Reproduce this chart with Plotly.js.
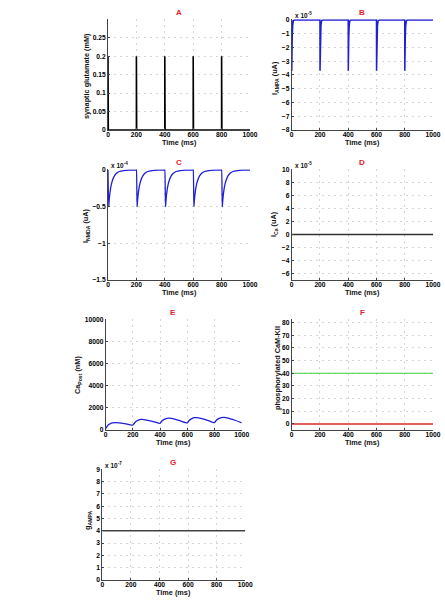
<!DOCTYPE html>
<html><head><meta charset="utf-8">
<script src="https://cdn.plot.ly/plotly-3.0.1.min.js"></script>
<style>html,body{margin:0;padding:0;background:#fff}#c{width:445px;height:603px}</style>
</head><body><div id="c"></div>
<script>
// Panel A: synaptic glutamate (mM)
const tA = [0,0,2,2,200,200,202,202,400,400,402,402,600,600,602,602,800,800,802,802,1000];
const yA = [0,0.2,0.2,0,0,0.2,0.2,0,0,0.2,0.2,0,0,0.2,0.2,0,0,0.2,0.2,0,0];
// Panel B: I_AMPA (x10^-5 uA)
const tB = [0,0.5,2,4,7,12,20,200,200.5,202,204,207,212,220,400,400.5,402,404,407,412,420,600,600.5,602,604,607,612,620,800,800.5,802,804,807,812,820,1000];
const yB = [0,-3.7,-2.5,-1.2,-0.4,-0.05,0,0,-3.7,-2.5,-1.2,-0.4,-0.05,0,0,-3.7,-2.5,-1.2,-0.4,-0.05,0,0,-3.7,-2.5,-1.2,-0.4,-0.05,0,0,-3.7,-2.5,-1.2,-0.4,-0.05,0,0];
// Panel C: I_NMDA (x10^-4 uA)
const tC = [0,5,8,12,20,30,45,60,80,110,150,199,
            200,205,208,212,220,230,245,260,280,310,350,399,
            400,405,408,412,420,430,445,460,480,510,550,599,
            600,605,608,612,620,630,645,660,680,710,750,799,
            800,805,808,812,820,830,845,860,880,910,950,1000];
const yC = [0,-0.5,-0.42,-0.34,-0.23,-0.15,-0.08,-0.045,-0.02,-0.007,-0.002,0,
            0,-0.5,-0.42,-0.34,-0.23,-0.15,-0.08,-0.045,-0.02,-0.007,-0.002,0,
            0,-0.5,-0.42,-0.34,-0.23,-0.15,-0.08,-0.045,-0.02,-0.007,-0.002,0,
            0,-0.5,-0.42,-0.34,-0.23,-0.15,-0.08,-0.045,-0.02,-0.007,-0.002,0,
            0,-0.5,-0.42,-0.34,-0.23,-0.15,-0.08,-0.045,-0.02,-0.007,-0.002,0];
// Panel D: I_Ca (x10^-5 uA)
const tD = [0,1000];
const yD = [0,0];
// Panel E: Ca_Post (nM)
const tE = [0,10,20,35,50,70,100,150,200,205,215,230,250,270,300,350,400,405,415,430,450,470,500,550,600,605,615,630,650,670,700,750,800,805,815,830,850,870,900,950,1000];
const yE = [120,330,470,580,640,665,640,560,440,520,680,830,940,960,900,760,600,680,830,960,1060,1070,1000,820,640,720,880,1010,1110,1120,1050,860,660,740,900,1030,1120,1140,1080,880,650];
// Panel F: phosphorylated CaM-KII
const tF = [0,1000];
const yFgreen = [40,40];
const yFred = [0,0];
// Panel G: g_AMPA (x10^-7)
const tG = [0,1000];
const yG = [4,4];

const xTicks = [0,200,400,600,800,1000];
const yTicksA = [0,0.05,0.1,0.15,0.2,0.25];
const yTicksB = [0,-1,-2,-3,-4,-5,-6,-7,-8];
const yTicksC = [0,-0.5,-1,-1.5];
const yTicksD = [-6,-4,-2,0,2,4,6,8,10];
const yTicksE = [0,2000,4000,6000,8000,10000];
const yTicksF = [0,10,20,30,40,50,60,70,80];
const yTicksG = [0,1,2,3,4,5,6,7,8,9];

const W = 445, H = 603;
const FONT = 'Liberation Sans, Arial, sans-serif';
const dx = (a,b)=>[a/W,b/W];
const dy = (top,bot)=>[1-bot/H,1-top/H];

function ax(domain, extra, isX){
  return Object.assign({
    domain: domain, showline:true, linecolor:'#444', linewidth:1, mirror:false,
    ticks:'inside', ticklen:2, tickcolor:'#444', zeroline:false,
    showgrid:true, gridcolor:'#d4d4d4', griddash:'2px,4px', gridwidth:1,
    tickfont:{family:FONT,size:6.7,color:'#000',weight:'bold'},
    fixedrange:true, ticklabelstandoff: isX ? -2 : 0, tickformat:'d'
  }, extra);
}

const data = [
  {x:tA,y:yA,xaxis:'x',yaxis:'y',mode:'lines',line:{color:'#000',width:1.6}},
  {x:tB,y:yB,xaxis:'x2',yaxis:'y2',mode:'lines',line:{color:'#1f1fd6',width:1.5}},
  {x:tC,y:yC,xaxis:'x3',yaxis:'y3',mode:'lines',line:{color:'#1f1fd6',width:1.3,shape:'spline',smoothing:0.6}},
  {x:tD,y:yD,xaxis:'x4',yaxis:'y4',mode:'lines',line:{color:'#333',width:1.5}},
  {x:tE,y:yE,xaxis:'x5',yaxis:'y5',mode:'lines',line:{color:'#1f1fd6',width:1.3,shape:'spline',smoothing:0.6}},
  {x:tF,y:yFgreen,xaxis:'x6',yaxis:'y6',mode:'lines',line:{color:'#3ccf3c',width:1.2}},
  {x:tF,y:yFred,xaxis:'x6',yaxis:'y6',mode:'lines',line:{color:'#e06060',width:2}},
  {x:tG,y:yG,xaxis:'x7',yaxis:'y7',mode:'lines',line:{color:'#444',width:1.6}}
];

const xr = [0,1000];
const layout = {
  width:W, height:H, margin:{l:0,r:0,t:0,b:0}, showlegend:false,
  paper_bgcolor:'#fff', plot_bgcolor:'#fff',
  xaxis: ax(dx(108,250),{range:xr,tickvals:xTicks,anchor:'y'},true),
  yaxis: ax(dy(19.3,130),{range:[0,0.3],tickvals:yTicksA,anchor:'x',tickformat:''}),
  xaxis2: ax(dx(291.7,433),{range:xr,tickvals:xTicks,anchor:'y2'},true),
  yaxis2: ax(dy(19.3,130),{range:[-8,0.05],tickvals:yTicksB,anchor:'x2'}),
  xaxis3: ax(dx(108,250),{range:xr,tickvals:xTicks,anchor:'y3'},true),
  yaxis3: ax(dy(169.3,280),{range:[-1.5,0.01],tickvals:yTicksC,anchor:'x3',tickformat:''}),
  xaxis4: ax(dx(291.7,433),{range:xr,tickvals:xTicks,anchor:'y4'},true),
  yaxis4: ax(dy(169.3,280),{range:[-7,10],tickvals:yTicksD,anchor:'x4'}),
  xaxis5: ax(dx(105.7,241.7),{range:xr,tickvals:xTicks,anchor:'y5'},true),
  yaxis5: ax(dy(319.3,430),{range:[0,10000],tickvals:yTicksE,anchor:'x5'}),
  xaxis6: ax(dx(291.7,433),{range:xr,tickvals:xTicks,anchor:'y6'},true),
  yaxis6: ax(dy(319.3,430),{range:[-4.8,82.6],tickvals:yTicksF,anchor:'x6'}),
  xaxis7: ax(dx(102.3,245.3),{range:xr,tickvals:xTicks,anchor:'y7'},true),
  yaxis7: ax(dy(469.3,580),{range:[0,9],tickvals:yTicksG,anchor:'x7'}),
  annotations: []
};

const ann = layout.annotations;
function txt(x,y,text,o){
  ann.push(Object.assign({xref:'paper',yref:'paper',x:x/W,y:1-y/H,text:text,showarrow:false,
    xanchor:'center',yanchor:'middle',font:{family:FONT,size:7.3,color:'#111',weight:'bold'}},o||{}));
}
const red = {font:{family:FONT,size:8,color:'#e8202a',weight:'bold'}};
// panel titles
txt(179,12,'A',red); txt(362,12,'B',red); txt(179,162,'C',red); txt(362,162,'D',red);
txt(173,312,'E',red); txt(362,312,'F',red); txt(173,462,'G',red);
// x axis titles
[[179,142],[362,142],[179,292],[362,292],[173.7,442],[362,442],[173.8,592]].forEach(p=>txt(p[0],p[1],'Time (ms)'));
// y axis titles
const rot = {textangle:-90};
txt(87,76,'synaptic glutamate (mM)',rot);
txt(275,78,'I<sub>AMPA</sub> (uA)',rot);
txt(86,226,'I<sub>NMDA</sub> (uA)',rot);
txt(274,224,'I<sub>Ca</sub> (uA)',rot);
txt(78,375,'Ca<sub>Post</sub> (nM)',rot);
txt(277,368,'phosphorylated CaM-KII',rot);
txt(88,521,'g<sub>AMPA</sub>',rot);
// exponent labels
const ex = {xanchor:'left',font:{family:FONT,size:6.5,color:'#111',weight:'bold'}};
txt(292.5,14.5,'x 10<sup>-5</sup>',ex);
txt(108.5,165,'x 10<sup>-4</sup>',ex);
txt(292.5,165,'x 10<sup>-5</sup>',ex);
txt(103,465,'x 10<sup>-7</sup>',ex);

Plotly.newPlot('c', data, layout, {staticPlot:true});
</script>
</body></html>
